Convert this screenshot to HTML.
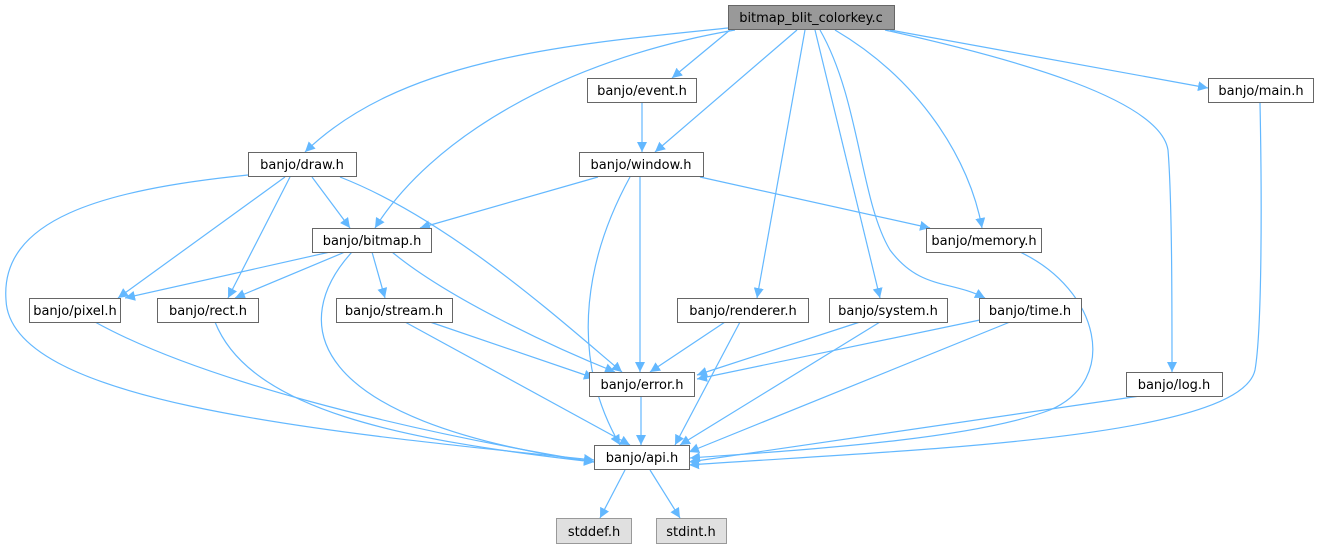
<!DOCTYPE html>
<html><head><meta charset="utf-8"><style>
body{margin:0;background:#fff;}
svg text{font-family:"DejaVu Sans","Liberation Sans",sans-serif;font-size:13px;fill:#000;text-anchor:middle;}
</style></head><body>
<svg width="1319" height="549" viewBox="0 0 1319 549" xmlns="http://www.w3.org/2000/svg">
<defs><marker id="a" viewBox="0 0 10 10" refX="10" refY="5" markerWidth="10" markerHeight="10" orient="auto" markerUnits="userSpaceOnUse"><path d="M0,0L10,5L0,10z" fill="#63b8ff"/></marker></defs>
<g fill="none" stroke="#63b8ff" stroke-width="1.2" marker-end="url(#a)">
<path d="M728,28 C560,45 400,60 305,152"/>
<path d="M735,30 C560,60 430,140 375,228"/>
<path d="M730,30 L672,78"/>
<path d="M797,30 L655,152"/>
<path d="M805,30 L757,298"/>
<path d="M815,30 L880,298"/>
<path d="M820,30 C860,100 860,200 890,250 C920,290 950,280 985,298"/>
<path d="M835,30 C920,80 970,160 982,228"/>
<path d="M885,30 C1020,60 1160,100 1168,150 C1172,200 1172,300 1172,372"/>
<path d="M890,30 L1208,88"/>
<path d="M642,103 L642,152"/>
<path d="M312,177 L350,228"/>
<path d="M285,177 L118,298"/>
<path d="M290,177 L228,298"/>
<path d="M340,177 C450,220 560,320 622,372"/>
<path d="M248,175 C100,190 0,220 6,300 C10,400 300,430 594,460"/>
<path d="M598,177 L420,228"/>
<path d="M700,177 L930,228"/>
<path d="M640,177 L640,372"/>
<path d="M630,177 C590,250 565,350 620,445"/>
<path d="M330,252 L125,298"/>
<path d="M345,252 L235,298"/>
<path d="M372,252 L385,298"/>
<path d="M392,252 C450,300 560,350 615,372"/>
<path d="M352,252 C290,320 300,420 594,462"/>
<path d="M1020,252 C1100,290 1120,380 1050,410 C970,440 800,450 690,458"/>
<path d="M95,322 C200,380 400,430 594,462"/>
<path d="M215,322 C250,410 400,440 594,462"/>
<path d="M405,322 L630,445"/>
<path d="M430,322 L594,378"/>
<path d="M725,322 L650,372"/>
<path d="M740,322 L675,445"/>
<path d="M860,322 L697,375"/>
<path d="M880,322 L680,445"/>
<path d="M980,320 L697,379"/>
<path d="M1010,322 L689,452"/>
<path d="M641,397 L641,445"/>
<path d="M1140,396 L689,462"/>
<path d="M1260,103 C1262,200 1262,330 1255,370 C1240,440 900,450 689,465"/>
<path d="M625,470 L600,518"/>
<path d="M650,470 L680,518"/>
</g>
<g stroke="#666" stroke-width="1" fill="#fff">
<rect x="728.5" y="5.5" width="166" height="24" fill="#999"/>
<rect x="587.5" y="78.5" width="109" height="24"/>
<rect x="1208.5" y="78.5" width="105" height="24"/>
<rect x="248.5" y="152.5" width="108" height="24"/>
<rect x="579.5" y="152.5" width="124" height="24"/>
<rect x="312.5" y="228.5" width="119" height="24"/>
<rect x="926.5" y="228.5" width="115" height="24"/>
<rect x="29.5" y="298.5" width="91" height="24"/>
<rect x="157.5" y="298.5" width="101" height="24"/>
<rect x="336.5" y="298.5" width="116" height="24"/>
<rect x="677.5" y="298.5" width="131" height="24"/>
<rect x="829.5" y="298.5" width="118" height="24"/>
<rect x="979.5" y="298.5" width="102" height="24"/>
<rect x="589.5" y="372.5" width="105" height="24"/>
<rect x="1126.5" y="372.5" width="96" height="24"/>
<rect x="594.5" y="445.5" width="95" height="24"/>
<rect x="556.5" y="518.5" width="75" height="25" fill="#e0e0e0" stroke="#999"/>
<rect x="656.5" y="518.5" width="70" height="25" fill="#e0e0e0" stroke="#999"/>
</g>
<g>
<text x="811" y="22">bitmap_blit_colorkey.c</text>
<text x="642" y="95">banjo/event.h</text>
<text x="1261" y="95">banjo/main.h</text>
<text x="302" y="169">banjo/draw.h</text>
<text x="641" y="169">banjo/window.h</text>
<text x="372" y="245">banjo/bitmap.h</text>
<text x="984" y="245">banjo/memory.h</text>
<text x="75" y="315">banjo/pixel.h</text>
<text x="208" y="315">banjo/rect.h</text>
<text x="394" y="315">banjo/stream.h</text>
<text x="743" y="315">banjo/renderer.h</text>
<text x="888" y="315">banjo/system.h</text>
<text x="1030" y="315">banjo/time.h</text>
<text x="642" y="389">banjo/error.h</text>
<text x="1174" y="389">banjo/log.h</text>
<text x="642" y="462">banjo/api.h</text>
<text x="594" y="536">stddef.h</text>
<text x="691" y="536">stdint.h</text>
</g>
</svg>
</body></html>
